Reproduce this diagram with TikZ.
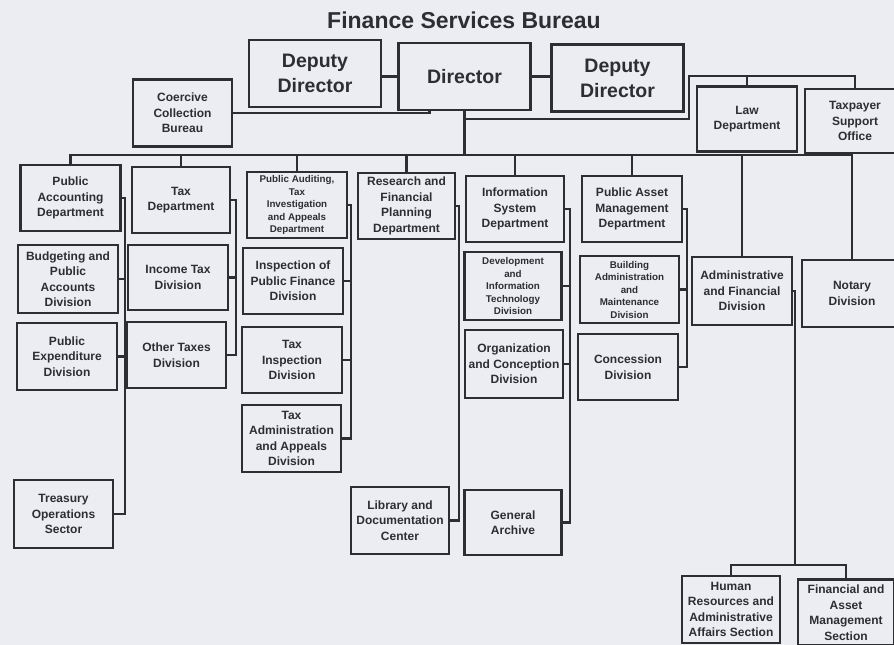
\documentclass[tikz,border=0pt]{standalone}
\usepackage{fontspec}
\setmainfont{Liberation Sans}
\definecolor{paper}{RGB}{236,236,243}
\definecolor{ink}{RGB}{45,45,52}
\tikzset{
    box/.style={draw=ink, line width=2.1pt, align=center, inner sep=0pt, text=ink,
        minimum width=100pt, minimum height=67pt,
        font=\bfseries\fontsize{12}{15.5}\selectfont},
    smallbox/.style={box, font=\bfseries\fontsize{9.8}{12.5}\selectfont},
    bigbox/.style={box, minimum width=132pt, font=\bfseries\fontsize{19.5}{25}\selectfont},
    link/.style={draw=ink, line width=2.1pt},
}

\begin{document}
\begin{tikzpicture}[x=1pt,y=-1pt]
\useasboundingbox (0,0) rectangle (894,645);
\fill[paper] (0,0) rectangle (894,645);
\clip (0,0) rectangle (894,645);

\node[text=ink, font=\bfseries\fontsize{23}{28}\selectfont] (title) at (464,20) {Finance Services Bureau};

% top level
\node[bigbox] (dirL) at (315,73.5) {Deputy\\Director};
\node[bigbox] (dir) at (464.5,76.5) {Director};
\node[bigbox] (dirR) at (617.5,78) {Deputy\\Director};
\node[box, minimum width=99pt] (coercive) at (182.5,113) {Coercive\\Collection\\Bureau};
\node[box, minimum height=65pt] (law) at (747,119) {Law\\Department};
\node[box, minimum height=64pt] (taxpayer) at (855,121) {Taxpayer\\Support\\Office};

% departments
\node[box, minimum height=66pt] (pubAcc) at (70.5,198) {Public\\Accounting\\Department};
\node[box, minimum width=98pt, minimum height=66pt] (taxDep) at (181,200) {Tax\\Department};
\node[smallbox, minimum height=66pt] (audit) at (297,205) {Public Auditing,\\Tax\\Investigation\\and Appeals\\Department};
\node[box, minimum width=97pt, minimum height=66pt] (research) at (406.5,206) {Research and\\Financial\\Planning\\Department};
\node[box, minimum width=98pt, minimum height=66pt] (infoSys) at (515,209) {Information\\System\\Department};
\node[box, minimum height=66pt] (asset) at (632,209) {Public Asset\\Management\\Department};
\node[box, minimum height=68pt] (admin) at (742,291) {Administrative\\and Financial\\Division};
\node[box] (notary) at (852,293.5) {Notary\\Division};

% divisions
\node[box, minimum height=68pt] (budget) at (68,279) {Budgeting and\\Public\\Accounts\\Division};
\node[box] (pubExp) at (67,356.5) {Public\\Expenditure\\Division};
\node[box, minimum width=99pt, minimum height=68pt] (treasury) at (63.5,514) {Treasury\\Operations\\Sector};

\node[box, minimum height=65pt] (incomeTax) at (178,277.5) {Income Tax\\Division};
\node[box, minimum width=99pt, minimum height=66pt] (otherTax) at (176.5,355) {Other Taxes\\Division};

\node[box, minimum height=66pt] (inspPF) at (293,281) {Inspection of\\Public Finance\\Division};
\node[box, minimum height=66pt] (taxInsp) at (292,360) {Tax\\Inspection\\Division};
\node[box, minimum width=99pt] (taxAdmin) at (291.5,438.5) {Tax\\Administration\\and Appeals\\Division};

\node[box, minimum width=98pt] (library) at (400,520.5) {Library and\\Documentation\\Center};

\node[smallbox, minimum width=97pt, minimum height=68pt] (devIT) at (513,286) {Development\\and\\Information\\Technology\\Division};
\node[box, minimum width=98pt, minimum height=68pt] (orgConc) at (514,364) {Organization\\and Conception\\Division};
\node[box, minimum width=97pt, minimum height=65pt] (archive) at (513,522.5) {General\\Archive};

\node[smallbox, minimum width=99pt] (building) at (629.5,289.5) {Building\\Administration\\and\\Maintenance\\Division};
\node[box, minimum height=66pt] (concession) at (628,367) {Concession\\Division};

\node[box, minimum width=98pt] (hr) at (731,609.5) {Human\\Resources and\\Administrative\\Affairs Section};
\node[box, minimum width=96pt, minimum height=66pt] (finAsset) at (846,612.5) {Financial and\\Asset\\Management\\Section};

% links at the top
\draw[link] (dir.west) -- (dir.west -| dirL.east);
\draw[link] (dir.east) -- (dir.east -| dirR.west);
\draw[link] (coercive.east) -| ([xshift=-35pt]dir.south);
\coordinate (split) at (464.5,119);
\coordinate (lawBar) at (689,76);
\draw[link] (split) -| (lawBar) -| (taxpayer.north);
\draw[link] (law.north) -- (law.north |- lawBar);

% main bus
\coordinate (bus) at (464.5,155);
\draw[link] (pubAcc.north) |- (notary.north |- bus) -- (notary.north);
\draw[link] (dir.south) -- (dir.south |- bus);
\foreach \n in {taxDep,audit,research,infoSys,asset,admin}
    \draw[link] (\n.north) -- (\n.north |- bus);

% division brackets
\draw[link] (pubAcc.east) -- ++(3,0) coordinate (paBar) |- (treasury.east);
\foreach \n in {budget,pubExp}
    \draw[link] (\n.east) -- (\n.east -| paBar);

\draw[link] (taxDep.east) -- ++(5,0) coordinate (tdBar) |- (otherTax.east);
\draw[link] (incomeTax.east) -- (incomeTax.east -| tdBar);

\draw[link] (audit.east) -- ++(3,0) coordinate (auBar) |- (taxAdmin.east);
\foreach \n in {inspPF,taxInsp}
    \draw[link] (\n.east) -- (\n.east -| auBar);

\draw[link] (research.east) -- ++(3,0) |- (library.east);

\draw[link] (infoSys.east) -- ++(5,0) coordinate (isBar) |- (archive.east);
\foreach \n in {devIT,orgConc}
    \draw[link] (\n.east) -- (\n.east -| isBar);

\draw[link] (asset.east) -- ++(4,0) coordinate (amBar) |- (concession.east);
\draw[link] (building.east) -- (building.east -| amBar);

\coordinate (afJoin) at (795,565);
\draw[link] (admin.east) -| (afJoin);
\draw[link] (hr.north) |- (finAsset.north |- afJoin) -- (finAsset.north);
\end{tikzpicture}
\end{document}
